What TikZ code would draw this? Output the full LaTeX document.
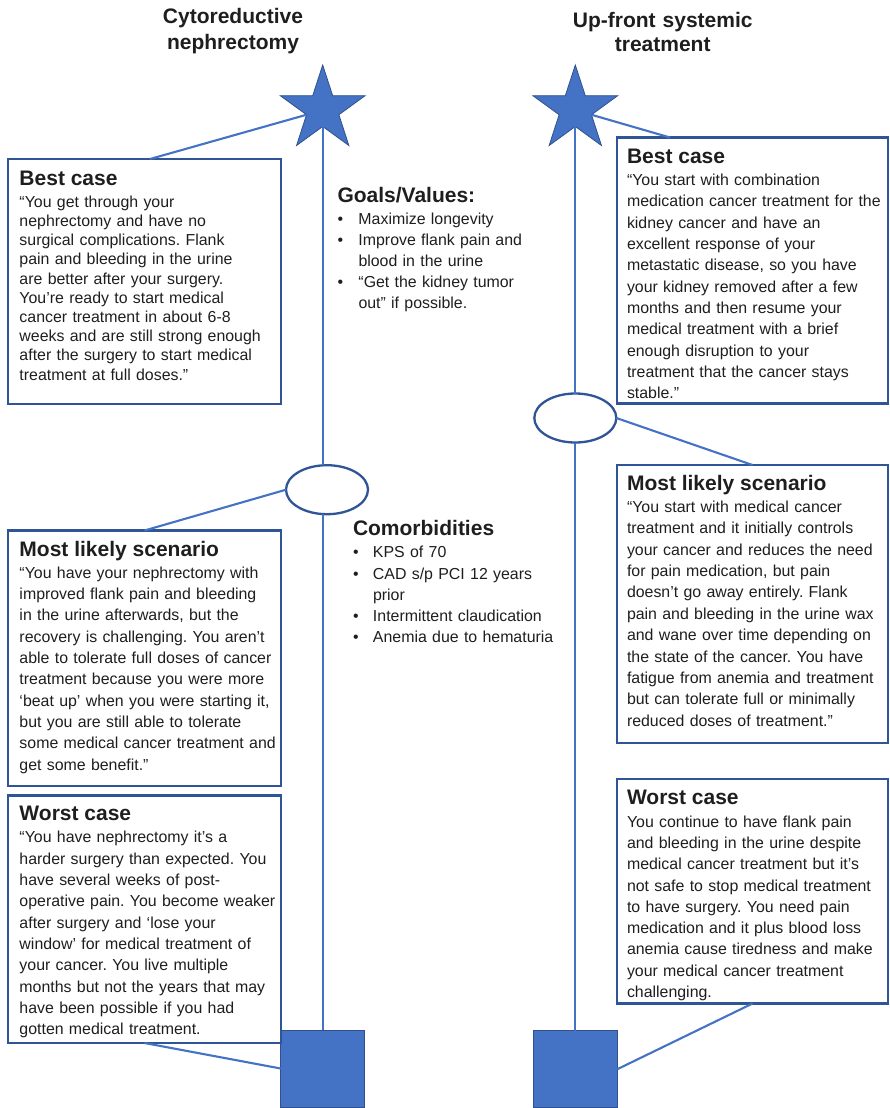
\documentclass[tikz,border=0pt]{standalone}
\usepackage{fontspec}
\setmainfont{Liberation Sans}
\usetikzlibrary{shapes.geometric}

\definecolor{lineblue}{HTML}{4472C4}
\definecolor{edgeblue}{HTML}{2F5597}
\definecolor{darkedge}{HTML}{2F528F}
\definecolor{ink}{HTML}{1E1E1E}

% bullet of a list item and the indent of its wrapped lines
\newcommand\bulitem[1]{\makebox[#1][l]{•}}
\newcommand\bulgap[1]{\makebox[#1]{}}

\frenchspacing

\begin{document}
\begin{tikzpicture}[x=1pt,y=-1pt,
  every node/.style={text=ink, inner sep=0pt, outer sep=0pt},
  scenbox/.style={rectangle, draw=edgeblue, line width=2.3pt, anchor=north west},
  headtext/.style={anchor=base west, font=\fontsize{21}{25}\selectfont\bfseries},
  bodytext/.style={anchor=base west, text width=300pt, align=left,
                   font=\fontsize{15.9}{#1}\selectfont},
  titletext/.style={anchor=base, text width=260pt, align=center,
                    font=\fontsize{21}{#1}\selectfont\bfseries},
  goalstar/.style={star, star points=5, star point ratio=2.618,
                   fill=lineblue, draw=darkedge, line width=0.8pt, minimum size=89pt},
  chance/.style={ellipse, draw=edgeblue, line width=2.3pt, fill=white,
                 minimum width=82pt, minimum height=49pt},
  outcome/.style={rectangle, fill=lineblue, draw=darkedge, line width=0.8pt,
                  minimum width=84pt, minimum height=77pt, anchor=north},
  conn/.style={draw=lineblue, line width=2.1pt}]

\useasboundingbox (0,0) rectangle (889,1108);

% ---------- column titles ----------
\node[titletext=25.5] (ltitle) at (233,23.5) {Cytoreductive\\nephrectomy};
\node[titletext=24.4] (rtitle) at (662.7,27.3) {Up-front systemic\\treatment};

% ---------- decision axis: cytoreductive nephrectomy ----------
\node[goalstar] (lstar) at (322.7,109.5) {};
\node[chance] (lell) at (327,489.7) {};
\node[outcome] (lsq) at (322.7,1030) {};

% ---------- decision axis: up-front systemic treatment ----------
\node[goalstar] (rstar) at (575.3,109.5) {};
\node[chance] (rell) at (575.3,418) {};
\node[outcome] (rsq) at (575.3,1030.7) {};

% ---------- scenario boxes ----------
\node[scenbox, minimum width=273pt, minimum height=245pt]   (lbest)  at (8,159) {};
\node[scenbox, minimum width=273pt, minimum height=255.5pt] (lmost)  at (8,530.5) {};
\node[scenbox, minimum width=273pt, minimum height=247.5pt] (lworst) at (8,795.5) {};
\node[scenbox, minimum width=271pt, minimum height=266pt]   (rbest)  at (617,137.5) {};
\node[scenbox, minimum width=271pt, minimum height=278pt]   (rmost)  at (617,465) {};
\node[scenbox, minimum width=271pt, minimum height=224.5pt] (rworst) at (617,779) {};

% ---------- texts of the left column ----------
\node[headtext] (lbestH) at (19.5,185) {Best case};
\node[bodytext=19.2] (lbestB) at (19.5,207.3) {“You get through your\\
nephrectomy and have no\\
surgical complications. Flank\\
pain and bleeding in the urine\\
are better after your surgery.\\
You’re ready to start medical\\
cancer treatment in about 6-8\\
weeks and are still strong enough\\
after the surgery to start medical\\
treatment at full doses.”};

\node[headtext] (lmostH) at (19.5,556.3) {Most likely scenario};
\node[bodytext=21.3] (lmostB) at (19.5,578.3) {“You have your nephrectomy with\\
improved flank pain and bleeding\\
in the urine afterwards, but the\\
recovery is challenging. You aren’t\\
able to tolerate full doses of cancer\\
treatment because you were more\\
‘beat up’ when you were starting it,\\
but you are still able to tolerate\\
some medical cancer treatment and\\
get some benefit.”};

\node[headtext] (lworstH) at (19.5,820.6) {Worst case};
\node[bodytext=21.3] (lworstB) at (19.5,842.9) {“You have nephrectomy it’s a\\
harder surgery than expected. You\\
have several weeks of post-\\
operative pain. You become weaker\\
after surgery and ‘lose your\\
window’ for medical treatment of\\
your cancer. You live multiple\\
months but not the years that may\\
have been possible if you had\\
gotten medical treatment.};

% ---------- texts of the right column ----------
\node[headtext] (rbestH) at (627,163) {Best case};
\node[bodytext=21.3] (rbestB) at (627,185.6) {“You start with combination\\
medication cancer treatment for the\\
kidney cancer and have an\\
excellent response of your\\
metastatic disease, so you have\\
your kidney removed after a few\\
months and then resume your\\
medical treatment with a brief\\
enough disruption to your\\
treatment that the cancer stays\\
stable.”};

\node[headtext] (rmostH) at (627,490.6) {Most likely scenario};
\node[bodytext=21.4] (rmostB) at (627,512.3) {“You start with medical cancer\\
treatment and it initially controls\\
your cancer and reduces the need\\
for pain medication, but pain\\
doesn’t go away entirely. Flank\\
pain and bleeding in the urine wax\\
and wane over time depending on\\
the state of the cancer. You have\\
fatigue from anemia and treatment\\
but can tolerate full or minimally\\
reduced doses of treatment.”};

\node[headtext] (rworstH) at (627,804.6) {Worst case};
\node[bodytext=21.25] (rworstB) at (627,827.3) {You continue to have flank pain\\
and bleeding in the urine despite\\
medical cancer treatment but it’s\\
not safe to stop medical treatment\\
to have surgery. You need pain\\
medication and it plus blood loss\\
anemia cause tiredness and make\\
your medical cancer treatment\\
challenging.};

% ---------- goals and comorbidities ----------
\node[headtext] (goalsH) at (337.5,202.3) {Goals/Values:};
\node[bodytext=21] (goalsB) at (337.5,224.6) {\bulitem{21pt}Maximize longevity\\
\bulitem{21pt}Improve flank pain and\\
\bulgap{21pt}blood in the urine\\
\bulitem{21pt}“Get the kidney tumor\\
\bulgap{21pt}out” if possible.};

\node[headtext] (comorbH) at (353,535.3) {Comorbidities};
\node[bodytext=21.25] (comorbB) at (353,557.9) {\bulitem{20pt}KPS of 70\\
\bulitem{20pt}CAD s/p PCI 12 years\\
\bulgap{20pt}prior\\
\bulitem{20pt}Intermittent claudication\\
\bulitem{20pt}Anemia due to hematuria};

% ---------- connectors ----------
\draw[conn] (lstar.inner point 3) -- (lstar.inner point 3 |- lell.north);
\draw[conn] (lstar.inner point 3 |- lell.south) -- (lsq.north);
\draw[conn] ([xshift=5.5pt]lbest.north) -- (lstar.inner point 2);
\draw[conn] (lmost.north) -- (lell.west);
\draw[conn] (lworst.south) -- (lsq.west);

\draw[conn] (rstar.inner point 3) -- (rell.north);
\draw[conn] (rell.south) -- (rsq.north);
\draw[conn] (rstar.inner point 4) -- ([xshift=53pt]rbest.north west);
\draw[conn] (rell.east) -- (rmost.north);
\draw[conn] (rsq.east) -- (rworst.south);

\end{tikzpicture}
\end{document}
